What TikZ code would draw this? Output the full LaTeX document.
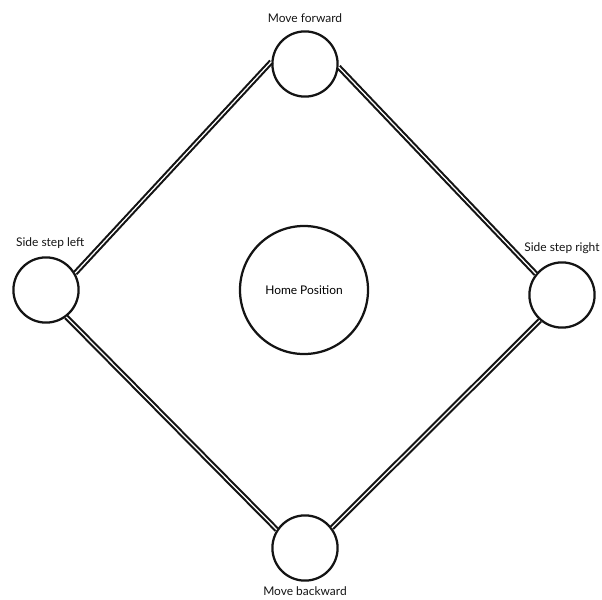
\documentclass[tikz,border=0pt]{standalone}
\usepackage{fontspec}
\setmainfont{Lato}
\usetikzlibrary{positioning}
\definecolor{ink}{RGB}{20,20,20}
\tikzset{
  spot/.style={circle,draw=ink,line width=1.6pt,fill=white,minimum size=1.63cm,inner sep=0pt},
  homespot/.style={spot,minimum size=3.2cm,font=\fontsize{8.5}{10}\selectfont},
  path/.style={draw=ink,line width=1.5pt,double=white,double distance=0.9pt},
  tag/.style={font=\fontsize{8.5}{10}\selectfont,text=ink,inner sep=1pt}
}
\begin{document}
\begin{tikzpicture}[x=0.025cm,y=-0.025cm]
  \useasboundingbox (0,0) rectangle (602,599);
  \node[spot] (fwd) at (305,64) {};
  \node[spot] (left) at (46,290) {};
  \node[spot] (right) at (562,295) {};
  \node[spot] (back) at (305,548) {};
  \node[homespot] (home) at (304,290) {Home Position};
  \node[tag,above=4pt of fwd] {Move forward};
  \node[tag,above=4pt of left,xshift=3pt] {Side step left};
  \node[tag,above=4pt of right] {Side step right};
  \node[tag,below=2pt of back] {Move backward};
  % the four legs of the diamond
  \draw[path] (left.30) -- (fwd.176);
  \draw[path] (fwd.355) -- (right.141);
  \draw[path] (right.229) -- (back.37);
  \draw[path] (back.147) -- (left.307);
\end{tikzpicture}
\end{document}
